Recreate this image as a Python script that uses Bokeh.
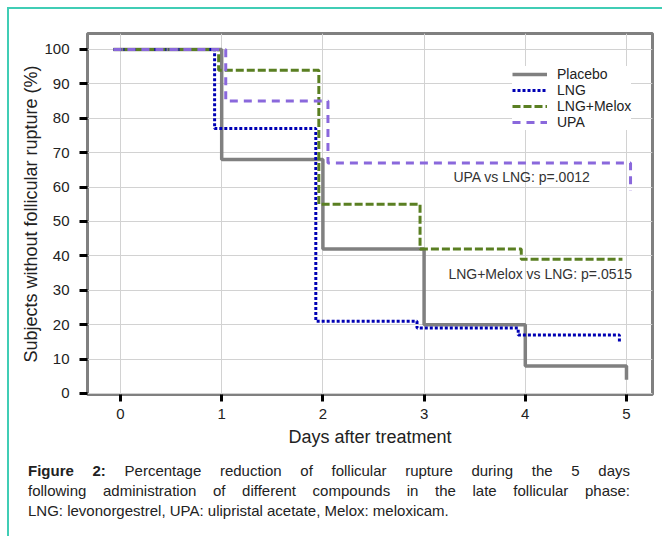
from bokeh.plotting import figure
from bokeh.models import Range1d, FixedTicker, Label, Legend, LegendItem, Div
from bokeh.layouts import column
from bokeh.embed import file_html
from bokeh.resources import INLINE

# ---- data ----
days = [0, 1, 2, 3, 4, 5]
pct_ticks = [0, 10, 20, 30, 40, 50, 60, 70, 80, 90, 100]

placebo_t = [-0.07, 1.0, 2.0, 3.0, 4.0, 5.0]
placebo_y = [100, 68, 42, 20, 8, 4]

lng_t = [-0.07, 0.93, 1.93, 2.93, 3.93, 4.93]
lng_y = [100, 77, 21, 19, 17, 15]

melox_t = [-0.07, 0.97, 1.96, 2.96, 3.96, 4.96]
melox_y = [100, 94, 55, 42, 39, 39]

upa_t = [-0.07, 1.04, 2.05, 5.04]
upa_y = [100, 85, 67, 59]

series_names = ["Placebo", "LNG", "LNG+Melox", "UPA"]
annot_upa = "UPA vs LNG: p=.0012"
annot_melox = "LNG+Melox vs LNG: p=.0515"

caption_bold = "Figure 2:"
caption_line1 = "Percentage reduction of follicular rupture during the 5 days"
caption_line2 = "following administration of different compounds in the late follicular phase:"
caption_line3 = "LNG: levonorgestrel, UPA: ulipristal acetate, Melox: meloxicam."

FONT = "Liberation Sans"

p = figure(width=645, height=445, output_backend="svg", toolbar_location=None,
           x_range=Range1d(-0.326, 5.257), y_range=Range1d(-0.3, 104.65),
           min_border_left=78, min_border_right=2, min_border_top=24, min_border_bottom=60)

p.outline_line_color = "#808080"
p.outline_line_width = 3
p.background_fill_color = "white"
p.border_fill_color = "white"

p.xgrid.ticker = FixedTicker(ticks=days)
p.ygrid.ticker = FixedTicker(ticks=pct_ticks)
p.grid.grid_line_color = "#d2d2d2"
p.grid.grid_line_width = 1

p.xaxis.ticker = FixedTicker(ticks=days)
p.yaxis.ticker = FixedTicker(ticks=pct_ticks)
for ax in (p.xaxis[0], p.yaxis[0]):
    ax.axis_line_color = None
    ax.major_tick_line_color = "black"
    ax.major_tick_line_width = 3
    ax.major_tick_in = 0
    ax.minor_tick_line_color = None
    ax.major_label_text_font = FONT
    ax.major_label_text_font_size = "15px"
    ax.major_label_text_color = "#222222"
    ax.axis_label_text_font = FONT
    ax.axis_label_text_font_style = "normal"
    ax.axis_label_text_font_size = "18px"
    ax.axis_label_text_color = "#222222"
p.xaxis.major_tick_out = 7
p.yaxis.major_tick_out = 8
p.xaxis.major_label_standoff = 7
p.yaxis.major_label_standoff = 10
p.xaxis.axis_label = "Days after treatment"
p.yaxis.axis_label = "Subjects without follicular rupture (%)"
p.xaxis.axis_label_standoff = 5
p.yaxis.axis_label_standoff = 0

r_placebo = p.step(placebo_t, placebo_y, mode="after", line_color="#808080", line_width=3.5)
r_lng = p.step(lng_t, lng_y, mode="after", line_color="#0000b4", line_width=3, line_dash="3 2")
r_melox = p.step(melox_t, melox_y, mode="after", line_color="#5a7f22", line_width=3, line_dash="8 3")
r_upa = p.step(upa_t, upa_y, mode="after", line_color="#8a68dc", line_width=3, line_dash="8 6")

legend = Legend(items=[LegendItem(label=n, renderers=[r]) for n, r in
                       zip(series_names, [r_placebo, r_lng, r_melox, r_upa])],
                location=(425, 264), border_line_color=None, background_fill_color="white",
                background_fill_alpha=1.0, padding=10, margin=0, spacing=0,
                glyph_width=35, glyph_height=14, label_height=14, label_standoff=10,
                label_text_font=FONT, label_text_font_size="14px", label_text_color="#222222")
p.add_layout(legend, "center")

p.add_layout(Label(x=3.29, y=62.9, text=annot_upa, text_baseline="middle",
                   text_font=FONT, text_font_size="14px", text_color="#333333"))
p.add_layout(Label(x=3.24, y=34.6, text=annot_melox, text_baseline="middle",
                   text_font=FONT, text_font_size="14px", text_color="#333333"))

just = "text-align:justify;text-align-last:justify;"
cap_html = (
    "<div style=\"font-family:'Liberation Sans',Arial,sans-serif;"
    "font-size:15px;line-height:20px;color:#222;width:616px;"
    "padding-left:14px;padding-top:2px;\">"
    f"<div style='{just}'><b>{caption_bold}</b> {caption_line1}</div>"
    f"<div style='{just}'>{caption_line2}</div>"
    f"<div>{caption_line3}</div>"
    "</div>"
)
cap = Div(text=cap_html, width=645, height=72)

layout = column(p, cap, spacing=0,
                styles={"border-top": "2px solid #40cdb5", "border-left": "2px solid #40cdb5",
                        "margin-left": "7px", "margin-top": "7px"})

open("out.html", "w").write(file_html(layout, INLINE))
